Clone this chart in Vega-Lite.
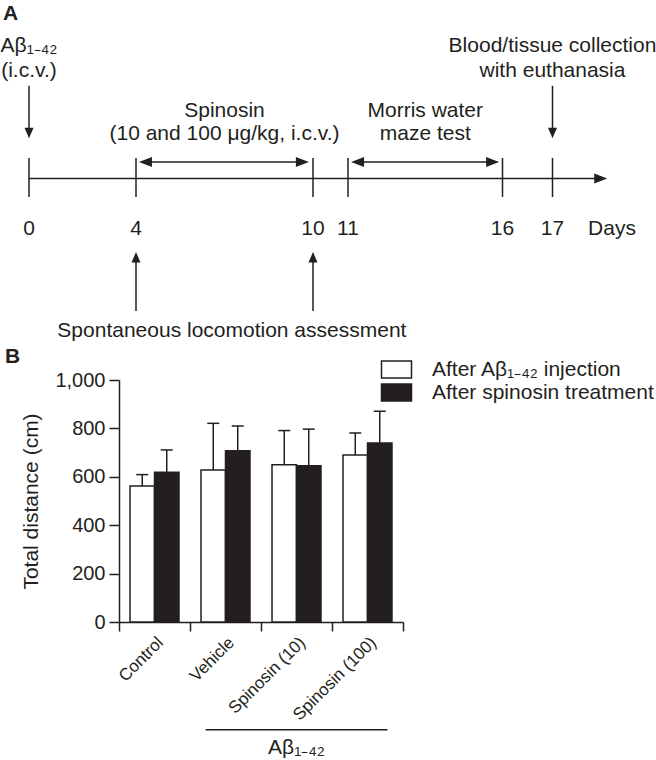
{
  "$schema": "https://vega.github.io/schema/vega-lite/v6.json",
  "padding": 0,
  "background": "white",
  "spacing": 4,
  "resolve": {"legend": {"fill": "independent", "shape": "independent"}},
  "config": {
    "font": "Liberation Sans",
    "view": {"stroke": null},
    "axis": {"labelColor": "#231f20", "titleColor": "#231f20", "domainColor": "#231f20", "tickColor": "#231f20", "domainWidth": 1.5, "tickWidth": 1.5, "grid": false},
    "legend": {"labelColor": "#231f20"}
  },
  "datasets": {
    "timelineLines": [
      {"day": 0, "day2": 17.85, "level": 52.2, "level2": 52.2},
      {"day": 0, "day2": 0, "level": 46.2, "level2": 57.6},
      {"day": 4, "day2": 4, "level": 46.2, "level2": 57.6},
      {"day": 10, "day2": 10, "level": 46.2, "level2": 57.6},
      {"day": 11, "day2": 11, "level": 46.2, "level2": 57.6},
      {"day": 16, "day2": 16, "level": 46.2, "level2": 57.6},
      {"day": 17, "day2": 17, "level": 46.2, "level2": 57.6},
      {"day": 0, "day2": 0, "level": 25.1, "level2": 39},
      {"day": 17, "day2": 17, "level": 25.1, "level2": 39},
      {"day": 4, "day2": 4, "level": 75, "level2": 90.9},
      {"day": 10, "day2": 10, "level": 75, "level2": 90.9},
      {"day": 4.2, "day2": 9.76, "level": 47.4, "level2": 47.4},
      {"day": 11.2, "day2": 15.79, "level": 47.4, "level2": 47.4}
    ],
    "timelineHeads": [
      {"day": 0, "level": 40.4, "dir": "down"},
      {"day": 17, "level": 40.4, "dir": "down"},
      {"day": 4, "level": 73.7, "dir": "up"},
      {"day": 10, "level": 73.7, "dir": "up"},
      {"day": 4.1, "level": 47.4, "dir": "left"},
      {"day": 9.86, "level": 47.4, "dir": "right"},
      {"day": 11.1, "level": 47.4, "dir": "left"},
      {"day": 15.89, "level": 47.4, "dir": "right"},
      {"day": 17.92, "level": 52.2, "dir": "right"}
    ],
    "timelineText": [
      {"label": "Aβ₁₋₄₂", "day": 0, "level": 15.2},
      {"label": "(i.c.v.)", "day": 0, "level": 22.5},
      {"label": "Spinosin", "day": 7, "level": 34.2},
      {"label": "(10 and 100 μg/kg, i.c.v.)", "day": 7, "level": 40.9},
      {"label": "Morris water", "day": 13.5, "level": 34.2},
      {"label": "maze test", "day": 13.5, "level": 40.9},
      {"label": "Blood/tissue collection", "day": 17, "level": 15.2},
      {"label": "with euthanasia", "day": 17, "level": 22.5},
      {"label": "0", "day": 0, "level": 68.7},
      {"label": "4", "day": 4, "level": 68.7},
      {"label": "10", "day": 10, "level": 68.7},
      {"label": "11", "day": 11, "level": 68.7},
      {"label": "16", "day": 16, "level": 68.7},
      {"label": "17", "day": 17, "level": 68.7},
      {"label": "Days", "day": 18, "level": 68.7},
      {"label": "Spontaneous locomotion assessment", "day": 7.25, "level": 98.5}
    ],
    "panelLabel": [{"label": "A", "day": -1, "level": 5.85}],
    "distance": [
      {"group": "Control", "phase": "After Aβ₁₋₄₂ injection", "mean": 562, "upper": 609},
      {"group": "Control", "phase": "After spinosin treatment", "mean": 619, "upper": 711},
      {"group": "Vehicle", "phase": "After Aβ₁₋₄₂ injection", "mean": 628, "upper": 821},
      {"group": "Vehicle", "phase": "After spinosin treatment", "mean": 708, "upper": 810},
      {"group": "Spinosin (10)", "phase": "After Aβ₁₋₄₂ injection", "mean": 650, "upper": 791},
      {"group": "Spinosin (10)", "phase": "After spinosin treatment", "mean": 646, "upper": 797},
      {"group": "Spinosin (100)", "phase": "After Aβ₁₋₄₂ injection", "mean": 690, "upper": 781},
      {"group": "Spinosin (100)", "phase": "After spinosin treatment", "mean": 740, "upper": 871}
    ],
    "groupLabel": [
      {"label": "Aβ₁₋₄₂", "from": "Vehicle", "to": "Spinosin (100)", "center": "Spinosin (10)"}
    ]
  },
  "vconcat": [
    {
      "width": 538,
      "height": 342,
      "encoding": {
        "x": {"field": "day", "type": "quantitative", "axis": null,
              "scale": {"domain": [-1, 0, 4, 10, 11, 16, 17, 18], "range": [-116, -90, 17, 194, 229, 383.5, 433.5, 493]}},
        "y": {"field": "level", "type": "quantitative", "axis": null,
              "scale": {"domain": [0, 100], "reverse": true}}
      },
      "layer": [
        {
          "data": {"name": "timelineLines"},
          "mark": {"type": "rule", "color": "#231f20", "strokeWidth": 1.5},
          "encoding": {"x2": {"field": "day2"}, "y2": {"field": "level2"}}
        },
        {
          "data": {"name": "timelineHeads"},
          "mark": {"type": "point", "filled": true, "color": "#231f20", "opacity": 1, "size": 25, "strokeWidth": 0},
          "encoding": {
            "shape": {"field": "dir", "type": "nominal", "legend": null,
                      "scale": {"domain": ["down", "up", "left", "right"],
                                "range": ["M0,0L-1.8,-4.2L1.8,-4.2Z", "M0,0L-1.8,4.2L1.8,4.2Z", "M0,0L5.2,-2L5.2,2Z", "M0,0L-5.2,-2L-5.2,2Z"]}}
          }
        },
        {
          "data": {"name": "timelineText"},
          "mark": {"type": "text", "fontSize": 21, "align": "center", "baseline": "alphabetic", "color": "#231f20"},
          "encoding": {"text": {"field": "label"}}
        },
        {
          "data": {"name": "panelLabel"},
          "mark": {"type": "text", "fontSize": 21, "fontWeight": "bold", "align": "left", "baseline": "alphabetic", "color": "#231f20"},
          "encoding": {"text": {"field": "label"}}
        }
      ]
    },
    {
      "title": {"text": "B", "anchor": "start", "frame": "bounds", "fontSize": 21, "fontWeight": "bold", "color": "#231f20", "dx": -16, "offset": -8},
      "width": 284,
      "height": 242,
      "layer": [
        {
          "data": {"name": "distance"},
          "mark": {"type": "bar", "stroke": "#231f20", "strokeWidth": 1.5},
          "encoding": {
            "x": {"field": "group", "type": "nominal",
                  "scale": {"domain": ["Control", "Vehicle", "Spinosin (10)", "Spinosin (100)"], "paddingInner": 0, "paddingOuter": 0},
                  "axis": {"title": null, "labelAngle": -45, "labelFontSize": 17, "tickBand": "extent", "tickSize": 9, "labelPadding": 3}},
            "xOffset": {"field": "phase", "type": "nominal",
                        "scale": {"domain": ["After Aβ₁₋₄₂ injection", "After spinosin treatment"], "paddingInner": 0, "paddingOuter": 0.45}},
            "y": {"field": "mean", "type": "quantitative",
                  "scale": {"domain": [0, 1000]},
                  "axis": {"title": "Total distance (cm)", "values": [0, 200, 400, 600, 800, 1000], "format": ",d",
                           "labelFontSize": 20, "tickSize": 10, "labelPadding": 4, "titleFontSize": 21, "titleFontWeight": "normal", "titlePadding": 13}},
            "fill": {"field": "phase", "type": "nominal",
                     "scale": {"domain": ["After Aβ₁₋₄₂ injection", "After spinosin treatment"], "range": ["white", "#231f20"]},
                     "legend": {"title": null, "orient": "none", "legendX": 267, "legendY": -21, "padding": 0,
                                "symbolType": "M-1.765,-1H1.765V1H-1.765Z", "symbolSize": 289,
                                "symbolStrokeColor": "#231f20", "symbolStrokeWidth": 1.5, "symbolOpacity": 1,
                                "labelFontSize": 21, "labelLimit": 400, "rowPadding": 0, "labelOffset": 25}}
          }
        },
        {
          "data": {"name": "distance"},
          "mark": {"type": "rule", "color": "#231f20", "strokeWidth": 1.5},
          "encoding": {
            "x": {"field": "group", "type": "nominal"},
            "xOffset": {"field": "phase", "type": "nominal"},
            "y": {"field": "upper", "type": "quantitative"},
            "y2": {"field": "mean"}
          }
        },
        {
          "data": {"name": "distance"},
          "mark": {"type": "tick", "color": "#231f20", "thickness": 1.5, "size": 12, "opacity": 1},
          "encoding": {
            "x": {"field": "group", "type": "nominal"},
            "xOffset": {"field": "phase", "type": "nominal"},
            "y": {"field": "upper", "type": "quantitative"}
          }
        },
        {
          "data": {"name": "groupLabel"},
          "mark": {"type": "rule", "color": "#231f20", "strokeWidth": 1.5},
          "encoding": {
            "x": {"field": "from", "type": "nominal", "bandPosition": 0.22},
            "x2": {"field": "to", "bandPosition": 0.78},
            "y": {"datum": -445}
          }
        },
        {
          "data": {"name": "groupLabel"},
          "mark": {"type": "text", "fontSize": 21, "baseline": "alphabetic", "align": "center", "color": "#231f20"},
          "encoding": {
            "x": {"field": "center", "type": "nominal"},
            "y": {"datum": -545},
            "text": {"field": "label"}
          }
        }
      ]
    }
  ]
}
